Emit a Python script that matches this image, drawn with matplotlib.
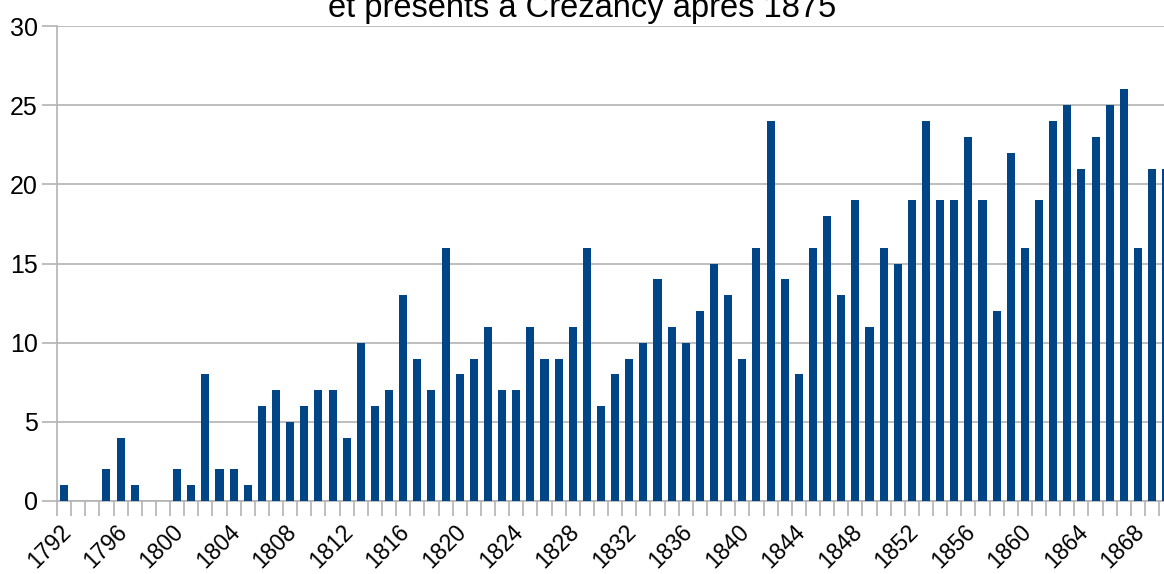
import numpy as np
import matplotlib
matplotlib.use('Agg')
import matplotlib.pyplot as plt
from matplotlib.ticker import FixedLocator
from matplotlib.transforms import ScaledTranslation

plt.rcParams['font.family'] = ['Liberation Sans', 'DejaVu Sans']

annees = list(range(1792, 1871))
effectifs = [1, 0, 0, 2, 4, 1, 0, 0, 2, 1,
             8, 2, 2, 1, 6, 7, 5, 6, 7, 7,
             4, 10, 6, 7, 13, 9, 7, 16, 8, 9,
             11, 7, 7, 11, 9, 9, 11, 16, 6, 8,
             9, 10, 14, 11, 10, 12, 15, 13, 9, 16,
             24, 14, 8, 16, 18, 13, 19, 11, 16, 15,
             19, 24, 19, 19, 23, 19, 12, 22, 16, 19,
             24, 25, 21, 23, 25, 26, 16, 21, 21]
etiquettes = [str(a) for a in annees[::4]]
titre = "et présents à Crézancy après 1875"

gris = '#b3b3b3'
bleu = '#004586'

fig = plt.figure(figsize=(11.64, 5.74), dpi=100)
ax = fig.add_axes([57 / 1164, 1 - 501 / 574, 1 - 57 / 1164, (501 - 26) / 574])

x = np.arange(len(annees))
ax.bar(x, effectifs, width=0.57, color=bleu, zorder=3)

ax.set_ylim(0, 30)
ax.set_xlim(-0.5, -0.5 + (1164 - 57) / 14.13)
ax.set_yticks([0, 5, 10, 15, 20, 25, 30])
ax.yaxis.grid(True, color=gris, linewidth=1.2, zorder=0)
ax.tick_params(axis='y', length=11, width=1.2, color=gris, labelsize=18, pad=3)

ax.set_xticks(x[::4])
ax.set_xticklabels(etiquettes, rotation=45, ha='right', va='center',
                   rotation_mode='anchor', fontsize=16.5)
ax.xaxis.set_minor_locator(FixedLocator(np.arange(-0.5, len(annees) + 0.5, 1)))
ax.tick_params(axis='x', which='major', length=0, pad=20)
ax.tick_params(axis='x', which='minor', length=11, width=1.2, color=gris)
decalage = ScaledTranslation(3 / 100, 0, fig.dpi_scale_trans)
for lab in ax.get_xticklabels():
    lab.set_transform(lab.get_transform() + decalage)

for s in ['top', 'right']:
    ax.spines[s].set_visible(False)
for s in ['left', 'bottom']:
    ax.spines[s].set_color(gris)
    ax.spines[s].set_linewidth(1.2)

fig.text(0.5, 1 - 17 / 574, titre, ha='center', va='baseline', fontsize=23.5)

fig.savefig('out.png', dpi=100)
